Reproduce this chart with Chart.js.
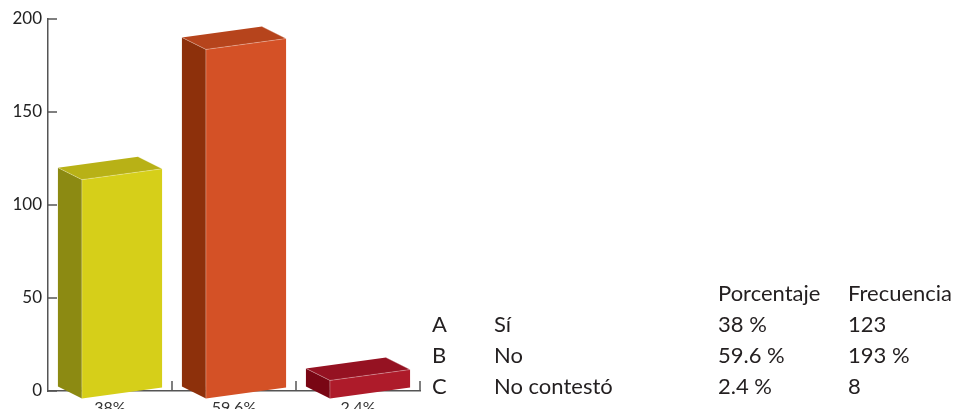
<!DOCTYPE html>
<html>
<head>
<meta charset="utf-8">
<script src="https://cdn.jsdelivr.net/npm/chart.js@4"></script>
<style>
    html, body { margin: 0; padding: 0; background: #fff; overflow: hidden; }
    #wrap { position: relative; width: 960px; height: 430px; }
    #tabla {
        position: absolute; left: 432px; top: 277px;
        display: grid; grid-template-columns: 62px 224px 130px auto;
        font-family: Lato, sans-serif; font-size: 22px; color: #231f20;
        line-height: 31px;
    }
</style>
</head>
<body>
<div id="wrap">
    <canvas id="myChart" width="960" height="430"></canvas>
    <div id="tabla"></div>
</div>
<script>
// Data
const letters = ['A', 'B', 'C'];
const answers = ['Sí', 'No', 'No contestó'];
const axisLabels = ['38%', '59.6%', '2.4%'];
const percentLabels = ['38 %', '59.6 %', '2.4 %'];
const frequencyLabels = ['123', '193 %', '8'];
const frequencies = [123, 193, 8];
const yTicks = [0, 50, 100, 150, 200];

// face colours: front, side, top
const barColors = [
    ['#d6cf19', '#8c8a12', '#b8b116'],
    ['#d45126', '#8d300b', '#b6441c'],
    ['#ae1b2a', '#790614', '#951222']
];

const depthX = 24, depthY = 12, slope = 0.135;

// Table on the right
const tabla = document.getElementById('tabla');
const rows = [['', '', 'Porcentaje', 'Frecuencia']];
letters.forEach((l, i) => rows.push([l, answers[i], percentLabels[i], frequencyLabels[i]]));
rows.forEach(r => r.forEach(t => {
    const d = document.createElement('div');
    d.textContent = t;
    tabla.appendChild(d);
}));

// Draw 3D boxes from the bar elements
const boxes3d = {
    id: 'boxes3d',
    beforeDatasetsDraw(chart) {
        // tick marks pointing inside the plot
        const ctx = chart.ctx;
        const xs = chart.scales.x, ys = chart.scales.y;
        ctx.save();
        ctx.strokeStyle = '#555';
        ctx.lineWidth = 1.5;
        ys.ticks.forEach(t => {
            const py = ys.getPixelForValue(t.value);
            ctx.beginPath();
            ctx.moveTo(xs.left, py);
            ctx.lineTo(xs.left + 9, py);
            ctx.stroke();
        });
        const step = xs.getPixelForValue(1) - xs.getPixelForValue(0);
        for (let i = 0; i < frequencies.length; i++) {
            const px = xs.getPixelForValue(i) + step / 2;
            ctx.beginPath();
            ctx.moveTo(px, ys.bottom);
            ctx.lineTo(px, ys.bottom - 10);
            ctx.stroke();
        }
        ctx.restore();
    },
    afterDatasetsDraw(chart) {
        const ctx = chart.ctx;
        const meta = chart.getDatasetMeta(0);
        meta.data.forEach((bar, i) => {
            const p = bar.getProps(['x', 'y', 'base', 'width'], true);
            const left = p.x - p.width / 2;
            const fw = p.width - depthX;
            const fl = left + depthX;
            const s = slope * fw / 2;
            const bot = p.base + 2;
            const top = Math.min(p.y + depthY, bot - 18);
            const c = barColors[i];
            const poly = (pts, col) => {
                ctx.beginPath();
                ctx.moveTo(pts[0][0], pts[0][1]);
                pts.slice(1).forEach(q => ctx.lineTo(q[0], q[1]));
                ctx.closePath();
                ctx.fillStyle = col;
                ctx.fill();
            };
            const TL = [fl, top + s], TR = [fl + fw, top - s];
            const BR = [fl + fw, bot - s], BL = [fl, bot + s];
            const bTL = [left, top + s - depthY], bTR = [left + fw, top - s - depthY];
            const bBL = [left, bot + s - depthY];
            ctx.save();
            poly([bTL, TL, BL, bBL], c[1]);
            poly([bTL, bTR, TR, TL], c[2]);
            poly([TL, TR, BR, BL], c[0]);
            // light edges
            ctx.strokeStyle = 'rgba(255,255,255,0.35)';
            ctx.lineWidth = 0.8;
            ctx.beginPath();
            ctx.moveTo(bTL[0], bTL[1]); ctx.lineTo(TL[0], TL[1]);
            ctx.lineTo(TR[0], TR[1]); ctx.lineTo(bTR[0], bTR[1]);
            ctx.moveTo(TL[0], TL[1]); ctx.lineTo(BL[0], BL[1]);
            ctx.stroke();
            ctx.restore();
        });
    }
};

let myChart = new Chart(document.getElementById('myChart').getContext('2d'), {
    type: 'bar',
    data: {
        labels: axisLabels,
        datasets: [{
            data: frequencies,
            backgroundColor: 'rgba(0,0,0,0)',
            barPercentage: 0.84,
            categoryPercentage: 1
        }]
    },
    options: {
        responsive: false,
        animation: false,
        layout: { padding: { top: 19, right: 540, left: 0, bottom: 0 } },
        plugins: { legend: { display: false }, tooltip: { enabled: false } },
        scales: {
            x: {
                grid: { display: false, drawTicks: false },
                border: { display: true, color: '#555', width: 1.5 },
                ticks: { font: { family: 'Lato, sans-serif', size: 16 }, color: '#333', padding: 7 },
                afterFit: s => { s.height = 39; }
            },
            y: {
                min: 0,
                max: 200,
                afterBuildTicks: s => { s.ticks = yTicks.map(v => ({ value: v })); },
                grid: { display: false, drawTicks: false },
                border: { display: true, color: '#555', width: 1.5 },
                ticks: { font: { family: 'Lato, sans-serif', size: 17 }, color: '#222', padding: 6 },
                afterFit: s => { s.width = 48; }
            }
        }
    },
    plugins: [boxes3d]
});
</script>
</body>
</html>
